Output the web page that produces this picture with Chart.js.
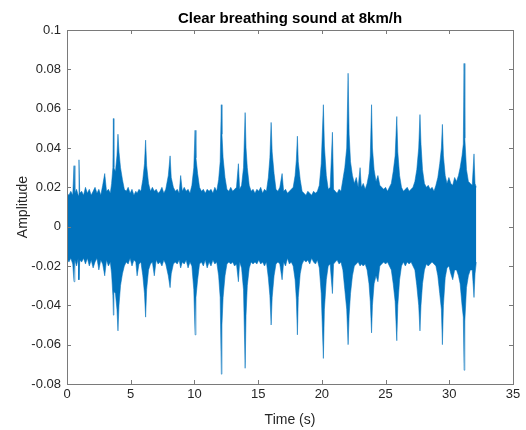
<!DOCTYPE html>
<html>
<head>
<meta charset="utf-8">
<script src="https://cdn.jsdelivr.net/npm/chart.js@4/dist/chart.umd.min.js"></script>
<style>
  html, body { margin: 0; padding: 0; background: #ffffff; }
  #wrap { width: 526px; height: 430px; }
</style>
</head>
<body>
<div id="wrap"><canvas id="c" width="526" height="430"></canvas></div>
<script>
// Envelope of the waveform (time in s, amplitude)
const timeS = [
 0.00,0.15,0.30,0.45,0.55,0.62,0.75,0.88,0.94,1.00,1.15,1.30,1.45,1.60,1.75,1.90,2.05,2.20,2.35,2.50,2.65,2.80,2.96,3.10,3.25,3.40,3.50,3.60,3.64,3.68,3.80,3.92,4.00,4.08,4.20,4.35,4.50,4.65,4.80,4.95,
 5.10,5.25,5.40,5.50,5.65,5.80,5.95,6.08,6.17,6.25,6.40,6.55,6.70,6.85,7.00,7.15,7.30,7.45,7.60,7.75,7.95,8.09,8.18,8.35,8.50,8.65,8.80,8.92,9.05,9.20,9.35,9.50,9.65,9.80,9.95,10.05,10.12,10.25,10.40,10.55,
 10.70,10.85,11.00,11.15,11.30,11.45,11.60,11.75,11.90,12.02,12.11,12.16,12.25,12.40,12.55,12.70,12.85,13.00,13.15,13.30,13.45,13.55,13.70,13.85,13.98,14.05,14.15,14.30,14.45,14.60,14.75,14.90,15.05,15.20,15.35,15.50,15.65,15.80,15.92,16.02,
 16.10,16.25,16.40,16.55,16.70,16.88,17.00,17.15,17.30,17.45,17.60,17.75,17.90,18.00,18.08,18.15,18.30,18.45,18.60,18.75,18.90,19.05,19.20,19.35,19.50,19.65,19.80,19.95,20.12,20.20,20.35,20.50,20.65,20.83,20.92,21.05,21.20,21.35,21.50,21.65,
 21.80,21.95,22.06,22.14,22.25,22.40,22.55,22.70,22.85,23.00,23.10,23.25,23.40,23.55,23.70,23.80,23.90,23.97,24.10,24.25,24.40,24.55,24.70,24.85,25.00,25.15,25.30,25.45,25.60,25.75,25.88,25.96,26.10,26.25,26.40,26.55,26.70,26.85,27.00,27.15,
 27.30,27.45,27.60,27.70,27.78,27.90,28.05,28.20,28.35,28.50,28.65,28.80,28.95,29.10,29.25,29.38,29.46,29.54,29.68,29.82,29.97,30.12,30.27,30.42,30.57,30.72,30.85,31.00,31.10,31.16,31.22,31.35,31.50,31.65,31.80,31.94,32.02,32.12
];
const upperEnv = [
 0.017,0.016,0.018,0.016,0.031,0.017,0.019,0.016,0.034,0.017,0.018,0.016,0.020,0.017,0.019,0.016,0.018,0.020,0.017,0.019,0.016,0.021,0.027,0.018,0.019,0.017,0.022,0.030,0.055,0.030,0.028,0.036,0.047,0.038,0.030,0.024,0.019,0.018,0.020,0.017,
 0.019,0.016,0.018,0.017,0.019,0.018,0.024,0.032,0.044,0.031,0.022,0.018,0.020,0.018,0.019,0.017,0.018,0.020,0.017,0.019,0.026,0.036,0.025,0.020,0.018,0.019,0.017,0.026,0.018,0.020,0.018,0.019,0.017,0.021,0.030,0.049,0.035,0.027,0.020,0.018,
 0.019,0.017,0.019,0.018,0.019,0.017,0.020,0.018,0.024,0.033,0.062,0.047,0.035,0.025,0.019,0.018,0.020,0.018,0.019,0.020,0.032,0.019,0.021,0.030,0.058,0.040,0.030,0.021,0.018,0.019,0.017,0.019,0.018,0.020,0.017,0.019,0.018,0.025,0.035,0.053,
 0.038,0.027,0.019,0.018,0.020,0.027,0.018,0.019,0.017,0.018,0.019,0.020,0.026,0.034,0.046,0.033,0.024,0.018,0.017,0.016,0.018,0.017,0.016,0.018,0.017,0.018,0.021,0.032,0.062,0.041,0.026,0.019,0.020,0.048,0.019,0.018,0.017,0.019,0.018,0.024,
 0.030,0.040,0.078,0.047,0.033,0.026,0.022,0.025,0.020,0.030,0.020,0.022,0.019,0.022,0.027,0.036,0.062,0.040,0.029,0.023,0.026,0.021,0.020,0.019,0.020,0.018,0.020,0.022,0.028,0.036,0.056,0.038,0.026,0.020,0.018,0.019,0.020,0.018,0.019,0.020,
 0.023,0.029,0.040,0.057,0.042,0.029,0.022,0.020,0.021,0.019,0.020,0.018,0.021,0.025,0.032,0.040,0.052,0.036,0.026,0.022,0.025,0.022,0.021,0.025,0.023,0.026,0.030,0.036,0.042,0.083,0.045,0.029,0.023,0.022,0.021,0.037,0.022,0.020
];
const lowerEnv = [
 -0.016,-0.018,-0.016,-0.019,-0.028,-0.017,-0.020,-0.016,-0.027,-0.017,-0.018,-0.016,-0.019,-0.016,-0.020,-0.017,-0.021,-0.018,-0.016,-0.022,-0.017,-0.019,-0.025,-0.017,-0.020,-0.018,-0.024,-0.035,-0.045,-0.033,-0.034,-0.042,-0.053,-0.040,-0.030,-0.024,-0.020,-0.018,-0.019,-0.016,
 -0.020,-0.017,-0.018,-0.025,-0.019,-0.018,-0.025,-0.034,-0.046,-0.032,-0.022,-0.019,-0.018,-0.025,-0.017,-0.019,-0.018,-0.020,-0.017,-0.019,-0.025,-0.031,-0.024,-0.019,-0.018,-0.019,-0.017,-0.021,-0.018,-0.019,-0.017,-0.021,-0.018,-0.020,-0.032,-0.055,-0.036,-0.027,-0.019,-0.018,
 -0.020,-0.017,-0.021,-0.018,-0.020,-0.017,-0.019,-0.018,-0.025,-0.036,-0.075,-0.050,-0.036,-0.025,-0.019,-0.018,-0.019,-0.018,-0.020,-0.019,-0.028,-0.018,-0.021,-0.032,-0.072,-0.045,-0.030,-0.021,-0.018,-0.019,-0.018,-0.019,-0.017,-0.019,-0.018,-0.020,-0.018,-0.026,-0.035,-0.050,
 -0.036,-0.025,-0.019,-0.018,-0.019,-0.027,-0.018,-0.020,-0.016,-0.019,-0.018,-0.020,-0.027,-0.037,-0.055,-0.036,-0.024,-0.019,-0.017,-0.018,-0.017,-0.019,-0.016,-0.018,-0.019,-0.017,-0.021,-0.034,-0.067,-0.042,-0.027,-0.020,-0.019,-0.034,-0.019,-0.018,-0.017,-0.019,-0.018,-0.022,
 -0.032,-0.042,-0.060,-0.045,-0.034,-0.025,-0.020,-0.019,-0.018,-0.020,-0.019,-0.020,-0.019,-0.022,-0.029,-0.038,-0.054,-0.040,-0.029,-0.025,-0.028,-0.020,-0.019,-0.018,-0.019,-0.018,-0.020,-0.022,-0.029,-0.038,-0.058,-0.040,-0.027,-0.020,-0.018,-0.020,-0.018,-0.019,-0.018,-0.020,
 -0.022,-0.030,-0.040,-0.053,-0.040,-0.029,-0.022,-0.019,-0.020,-0.019,-0.018,-0.019,-0.020,-0.025,-0.034,-0.042,-0.060,-0.040,-0.026,-0.021,-0.020,-0.024,-0.027,-0.022,-0.022,-0.025,-0.029,-0.040,-0.046,-0.073,-0.048,-0.031,-0.025,-0.022,-0.022,-0.036,-0.024,-0.018
];
const xTicks = [0, 5, 10, 15, 20, 25, 30, 35];
const xTickLabels = ['0', '5', '10', '15', '20', '25', '30', '35'];
const yTicks = [-0.08, -0.06, -0.04, -0.02, 0, 0.02, 0.04, 0.06, 0.08, 0.1];
const yTickLabels = ['-0.08', '-0.06', '-0.04', '-0.02', '0', '0.02', '0.04', '0.06', '0.08', '0.1'];

const FONT = '"Liberation Sans", Arial, Helvetica, sans-serif';
const TXT = '#262626';
const BLUE = '#0072BD';

const upperPts = timeS.map((t, i) => ({ x: t, y: upperEnv[i] }));
const lowerPts = timeS.map((t, i) => ({ x: t, y: lowerEnv[i] }));

const frameTicks = {
  id: 'frameTicks',
  afterDatasetsDraw(chart) {
    const { ctx, chartArea: a, scales: { x, y } } = chart;
    const L = 4;
    ctx.save();
    ctx.strokeStyle = '#7a7a7a';
    ctx.lineWidth = 1;
    ctx.beginPath();
    xTicks.forEach(v => {
      const px = Math.round(x.getPixelForValue(v)) + 0.5;
      ctx.moveTo(px, a.bottom); ctx.lineTo(px, a.bottom - L);
      ctx.moveTo(px, a.top); ctx.lineTo(px, a.top + L);
    });
    yTicks.forEach(v => {
      const py = Math.round(y.getPixelForValue(v)) + 0.5;
      ctx.moveTo(a.left, py); ctx.lineTo(a.left + L, py);
      ctx.moveTo(a.right, py); ctx.lineTo(a.right - L, py);
    });
    ctx.stroke();
    ctx.strokeRect(Math.round(a.left) + 0.5, Math.round(a.top) + 0.5,
                   Math.round(a.right - a.left), Math.round(a.bottom - a.top));
    ctx.restore();
  }
};

new Chart(document.getElementById('c'), {
  type: 'line',
  data: {
    datasets: [
      { data: upperPts, borderColor: 'rgba(0,114,189,0.55)', borderWidth: 1,
        backgroundColor: BLUE, fill: '+1', pointRadius: 0, tension: 0 },
      { data: lowerPts, borderColor: 'rgba(0,114,189,0.55)', borderWidth: 1,
        backgroundColor: BLUE, fill: false, pointRadius: 0, tension: 0 }
    ]
  },
  options: {
    responsive: false,
    animation: false,
    events: [],
    layout: { padding: { left: 0, right: 13, top: 0, bottom: 0 } },
    plugins: {
      legend: { display: false },
      tooltip: { enabled: false },
      title: {
        display: true,
        fullSize: false,
        text: 'Clear breathing sound at 8km/h',
        color: '#000000',
        font: { family: FONT, size: 15, weight: 'bold', lineHeight: 1.2 },
        padding: { top: 10, bottom: 2 }
      }
    },
    scales: {
      x: {
        type: 'linear', position: 'bottom', min: 0, max: 35,
        afterBuildTicks: s => { s.ticks = xTicks.map(v => ({ value: v })); },
        afterFit: s => { s.height = 46; },
        grid: { display: false, drawTicks: false },
        border: { display: false },
        ticks: { color: TXT, padding: 3, maxRotation: 0, autoSkip: false,
                 font: { family: FONT, size: 13 },
                 callback: (v) => xTickLabels[xTicks.indexOf(v)] },
        title: { display: true, text: 'Time (s)', color: TXT,
                 font: { family: FONT, size: 14, lineHeight: 1.2 },
                 padding: { top: 0, bottom: 1 } }
      },
      y: {
        type: 'linear', position: 'left', min: -0.08, max: 0.1,
        afterBuildTicks: s => { s.ticks = yTicks.map(v => ({ value: v })); },
        afterFit: s => { s.width = 67; },
        grid: { display: false, drawTicks: false },
        border: { display: false },
        ticks: { color: TXT, padding: 6, autoSkip: false,
                 font: { family: FONT, size: 13 },
                 callback: (v) => yTickLabels[yTicks.findIndex(t => Math.abs(t - v) < 1e-9)] },
        title: { display: true, text: 'Amplitude', color: TXT,
                 font: { family: FONT, size: 14, lineHeight: 1.2 },
                 padding: { top: 15, bottom: 0 } }
      }
    }
  },
  plugins: [frameTicks]
});
</script>
</body>
</html>
